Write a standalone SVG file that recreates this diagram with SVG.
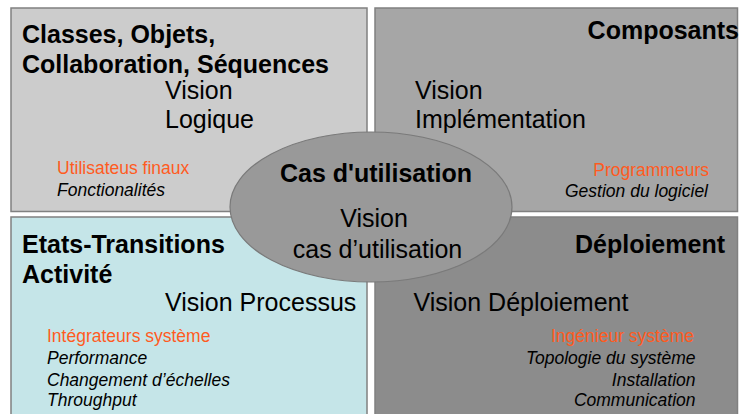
<svg xmlns="http://www.w3.org/2000/svg" width="740" height="414" viewBox="0 0 740 414">
<style>
.box{stroke:#808080;stroke-width:1.5}
.h{font-family:"Liberation Sans",Arial,sans-serif;font-weight:bold;font-size:25px;fill:#000}
.v{font-family:"Liberation Sans",Arial,sans-serif;font-size:25px;fill:#000}
.o{font-family:"Liberation Sans",Arial,sans-serif;font-size:17.5px;fill:#ff5b1f}
.i{font-family:"Liberation Sans",Arial,sans-serif;font-size:17.5px;font-style:italic;fill:#000}
.e{text-anchor:end}
.m{text-anchor:middle}
</style>
<rect width="740" height="414" fill="#ffffff"/>
<g id="logique">
<rect class="box" x="11" y="8" width="356" height="203.5" fill="#cccccc"/>
<text class="h" x="22" y="43">Classes, Objets,</text>
<text class="h" x="22" y="73">Collaboration, Séquences</text>
<text class="v" x="165" y="99">Vision</text>
<text class="v" x="165" y="128">Logique</text>
<text class="o" x="57" y="174">Utilisateus finaux</text>
<text class="i" x="57" y="196">Fonctionalités</text>
</g>
<g id="implementation">
<rect class="box" x="375" y="8" width="362.5" height="203.5" fill="#a6a6a6"/>
<text class="h e" x="739" y="39">Composants</text>
<text class="v" x="415" y="99">Vision</text>
<text class="v" x="415" y="128">Implémentation</text>
<text class="o e" x="709" y="176">Programmeurs</text>
<text class="i e" x="708" y="197">Gestion du logiciel</text>
</g>
<g id="processus">
<rect class="box" x="11" y="217" width="356" height="210" fill="#c5e5e8"/>
<text class="h" x="22" y="253">Etats-Transitions</text>
<text class="h" x="22" y="282.5">Activité</text>
<text class="v" x="165" y="310.5">Vision Processus</text>
<text class="o" x="47" y="342">Intégrateurs système</text>
<text class="i" x="47" y="364">Performance</text>
<text class="i" x="47" y="385.5">Changement d’échelles</text>
<text class="i" x="47" y="406">Throughput</text>
</g>
<g id="deploiement">
<rect class="box" x="375" y="217" width="362.5" height="210" fill="#8c8c8c"/>
<text class="h e" x="725" y="252.5">Déploiement</text>
<text class="v" x="413.5" y="310.5">Vision Déploiement</text>
<text class="o e" x="694" y="341.5">Ingénieur système</text>
<text class="i e" x="695.5" y="364">Topologie du système</text>
<text class="i e" x="695.5" y="385.5">Installation</text>
<text class="i e" x="695.5" y="406">Communication</text>
</g>
<g id="cas-utilisation">
<ellipse cx="371" cy="207" rx="141" ry="75" fill="#999999" stroke="#7a7a7a" stroke-width="1.2"/>
<text class="h m" x="376" y="181.5">Cas d'utilisation</text>
<text class="v m" x="374" y="227">Vision</text>
<text class="v m" x="377.5" y="258">cas d’utilisation</text>
</g>
<g id="connectors"/>
</svg>
